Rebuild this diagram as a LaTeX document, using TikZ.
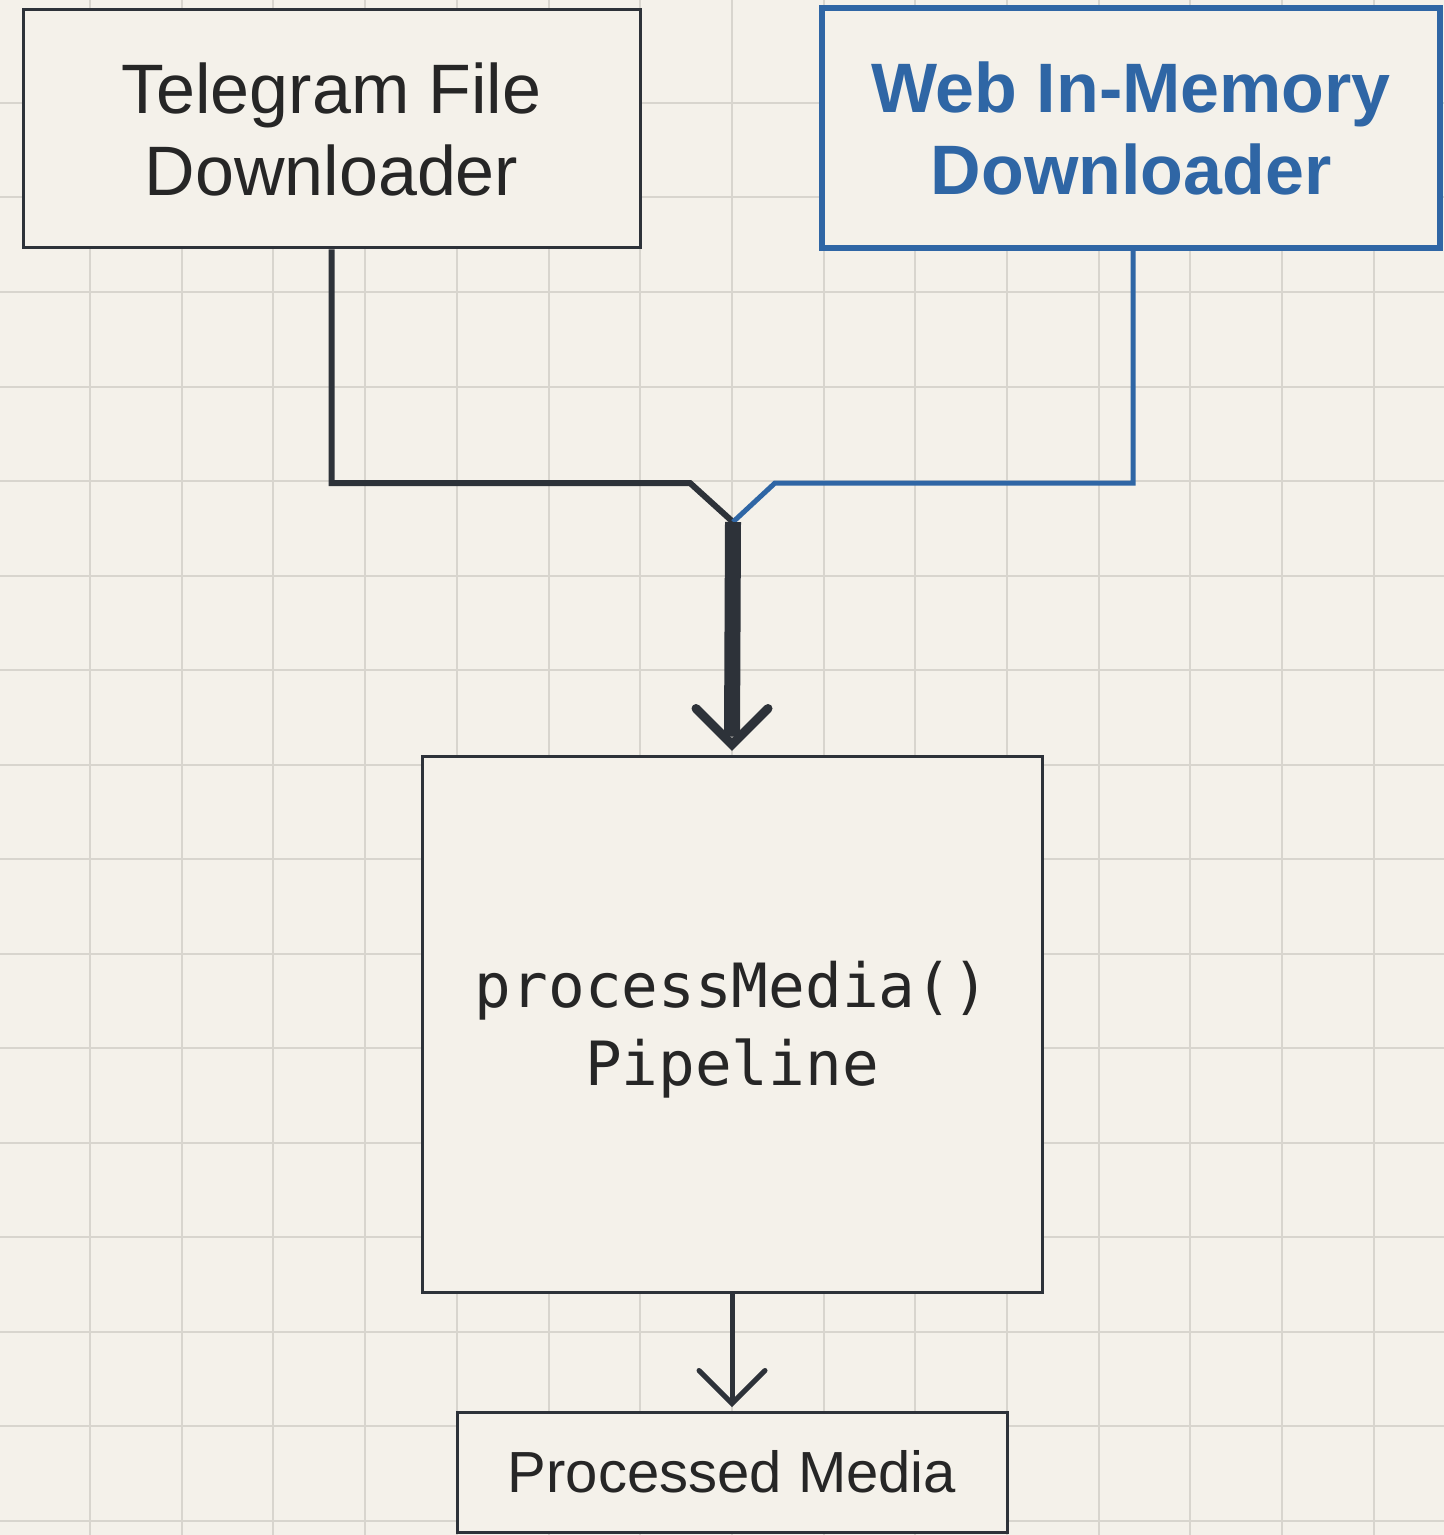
\documentclass[tikz,border=0pt]{standalone}
\usepackage{fontspec}
\setmainfont{Liberation Sans}
\newfontfamily\codefont{DejaVu Sans Mono}
\definecolor{bgc}{HTML}{F4F1EA}
\definecolor{gridc}{HTML}{D8D5CE}
\definecolor{inkc}{HTML}{2D3239}
\definecolor{txtc}{HTML}{262626}
\definecolor{bluec}{HTML}{2F66A5}
\begin{document}
\begin{tikzpicture}[x=0.5pt,y=-0.5pt,
  gridline/.style={draw=gridc,line width=1pt},
  box/.style={draw=inkc,line width=1.5pt,fill=bgc,inner sep=0pt,align=center,text=txtc},
  bluebox/.style={draw=bluec,line width=3pt,fill=bgc,inner sep=0pt,align=center,text=bluec,font=\fontsize{35}{41}\selectfont\bfseries},
  conn/.style={draw=inkc,line width=3pt,line join=miter},
  blueconn/.style={draw=bluec,line width=2.5pt,line join=miter},
  shaft/.style={draw=inkc,line width=8pt,line cap=butt},
  headv/.style={draw=inkc,line width=4.5pt,line join=miter,line cap=round},
  thin/.style={draw=inkc,line width=2.5pt},
  headthin/.style={draw=inkc,line width=2.5pt,line join=miter,line cap=round}]
\fill[bgc] (0,0) rectangle (1444,1535);
\useasboundingbox (0,0) rectangle (1444,1535);
\foreach \k in {0,...,15} \draw[gridline] ({-1.7+91.7*\k},0) -- ({-1.7+91.7*\k},1535);
\foreach \k in {1,...,16} \draw[gridline] (0,{8.5+94.5*\k}) -- (1444,{8.5+94.5*\k});

\node[box,minimum width=308.5pt,minimum height=119pt,font=\fontsize{35}{41}\selectfont] (tele) at (331.5,129) {Telegram File\\Downloader};
\node[bluebox,minimum width=309pt,minimum height=120pt] (web) at (1131,128) {Web In-Memory\\Downloader};
\node[box,minimum width=310pt,minimum height=268pt,font=\codefont\fontsize{30.5}{39}\selectfont] (proc) at (732,1024) {\raisebox{-3.5pt}[\height][\depth]{\begin{tabular}{@{}c@{}}processMedia()\\Pipeline\end{tabular}}};
\node[box,minimum width=275pt,minimum height=60pt,font=\fontsize{29}{34}\selectfont] (out) at (732,1472) {Processed Media};

\coordinate (m) at (733,522);
\coordinate (lb) at (690,483);
\coordinate (rb) at (775,483);

\draw[conn] (tele.south) |- (lb) -- (m);
\draw[blueconn] ([xshift=1pt]web.south) |- (rb) -- (m);
\draw[shaft] (m) -- ([yshift=9pt]proc.north);
\draw[headv] ([xshift=-18pt,yshift=23pt]proc.north) -- ([yshift=5pt]proc.north) -- ([xshift=18pt,yshift=23pt]proc.north);

\draw[thin] (proc.south) -- ([yshift=5pt]out.north);
\draw[headthin] ([xshift=-16.5pt,yshift=20pt]out.north) -- ([yshift=3.5pt]out.north) -- ([xshift=16.5pt,yshift=20pt]out.north);
\end{tikzpicture}
\end{document}
